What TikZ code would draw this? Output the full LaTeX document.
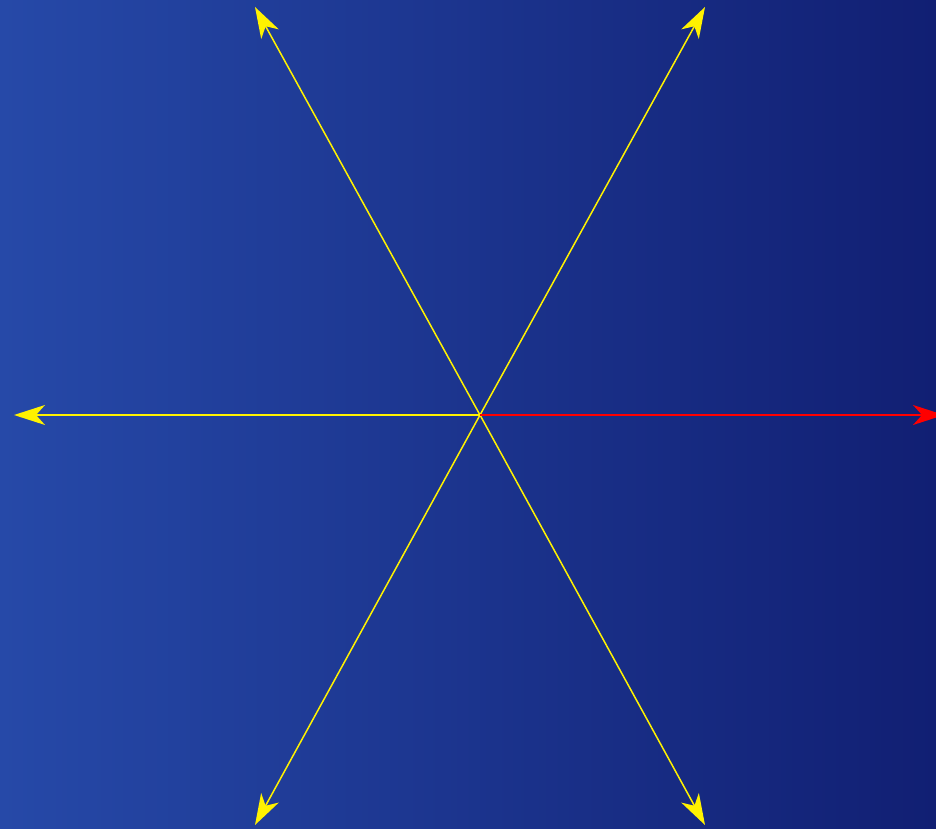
\documentclass[tikz,border=0pt]{standalone}
\usepackage{tikz}
\usetikzlibrary{arrows.meta}
\definecolor{skyleft}{RGB}{38,73,168}
\definecolor{skyright}{RGB}{17,31,115}

\begin{document}
\begin{tikzpicture}[
  x=1pt, y=1pt,
  ray/.style={-{Stealth[length=31pt, width=20pt, inset=9pt]}, line width=1.5pt, yellow},
  mainray/.style={ray, red},
]

% Background
\shade[left color=skyleft, right color=skyright] (0,0) rectangle (936,828);
\useasboundingbox (0,0) rectangle (936,828);

% Centre and ray ends
\coordinate (O) at (480,413);
\coordinate (east) at (944,413);
\coordinate (west) at (14,413);
\coordinate (ne) at (705,821);
\coordinate (nw) at (255,821);
\coordinate (sw) at (255,3);
\coordinate (se) at (705,3);

% Rays
\foreach \e in {west, ne, nw, sw, se}
  \draw[ray] (O) -- (\e);
\draw[mainray] (O) -- (east);

\end{tikzpicture}
\end{document}
